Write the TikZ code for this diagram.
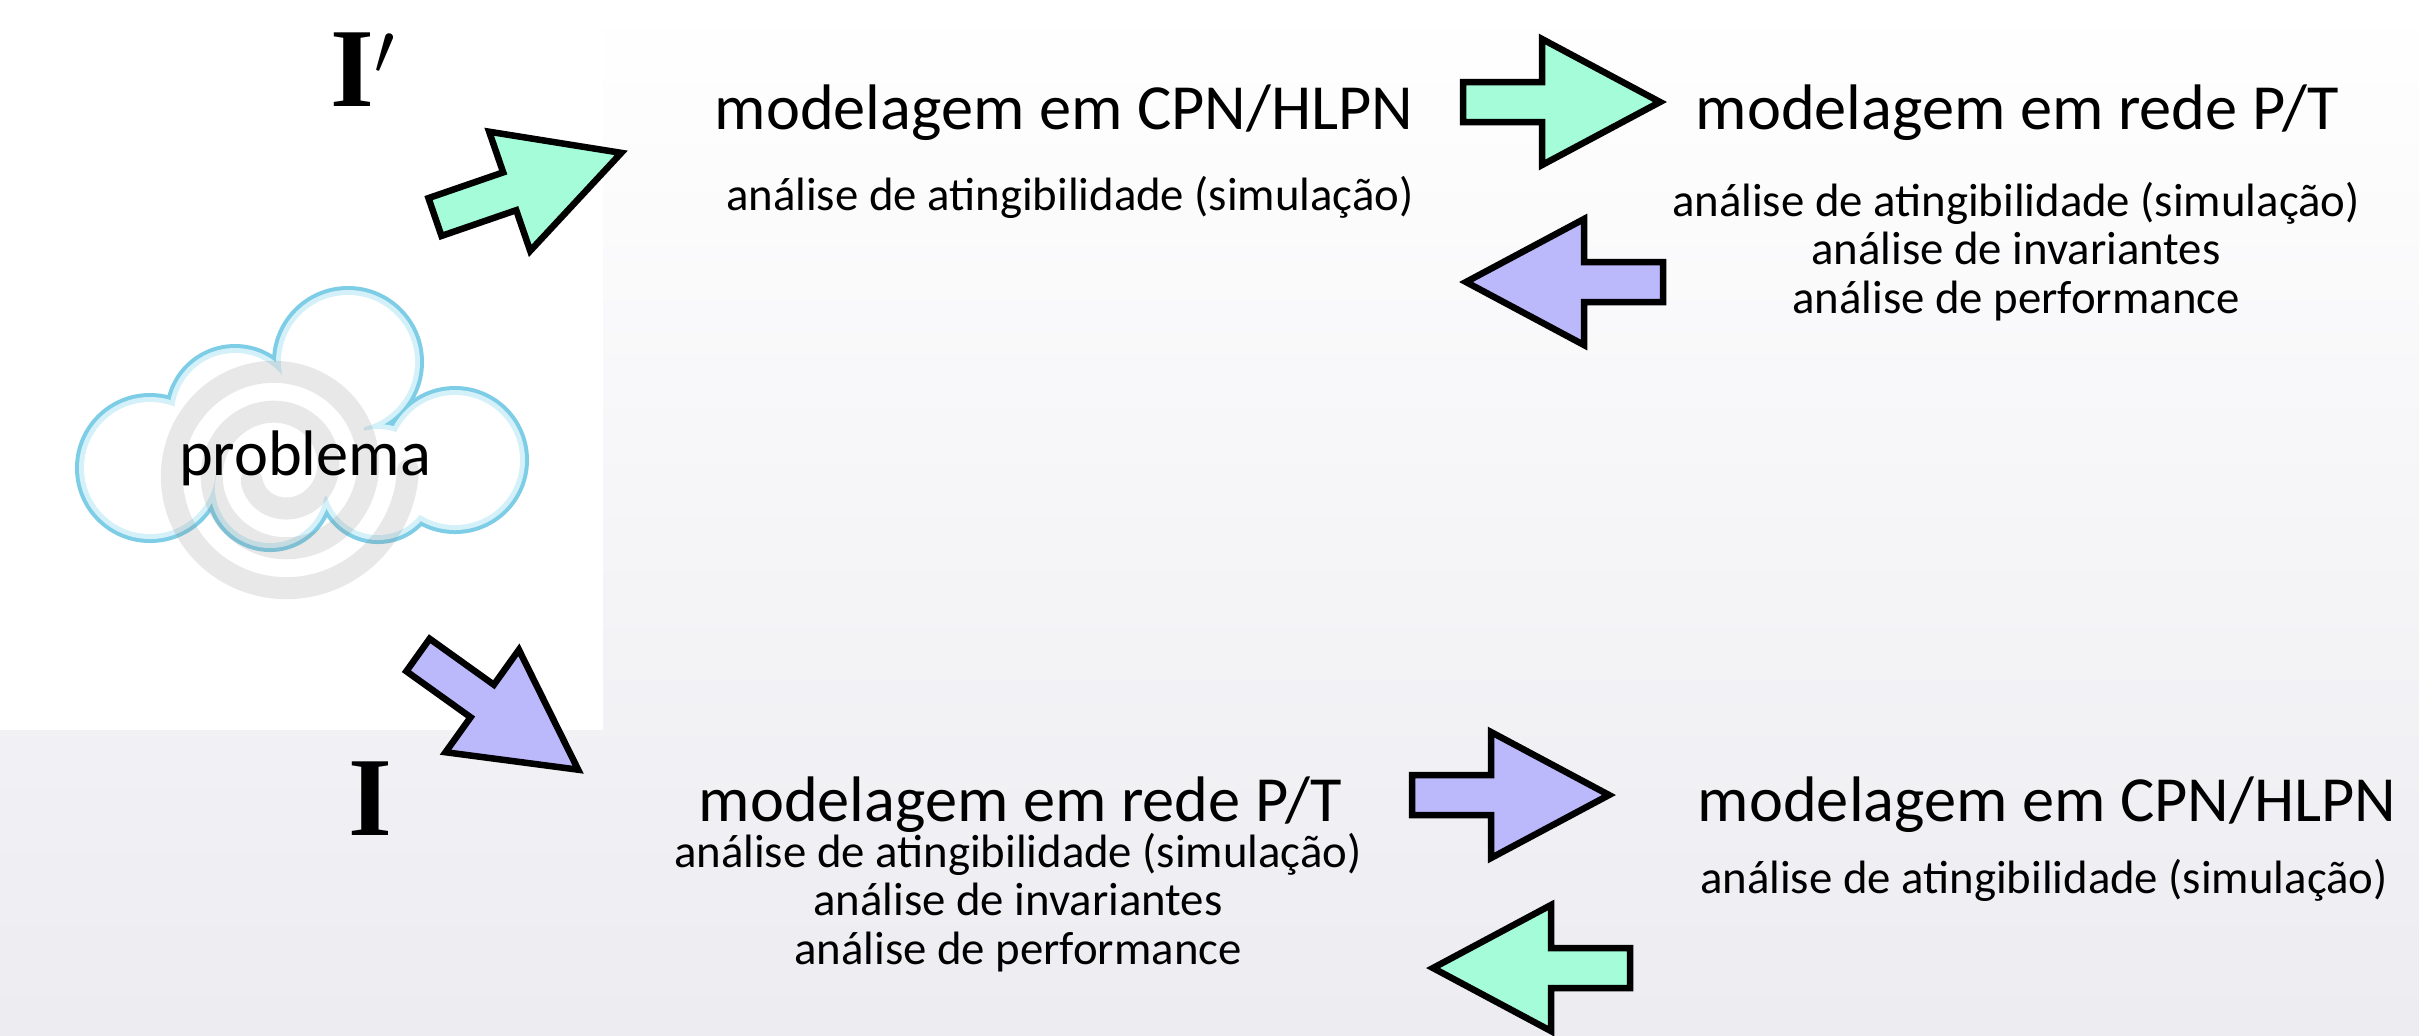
\documentclass[tikz,border=0pt]{standalone}
\usepackage{fontspec}
\setmainfont{Carlito}
\newfontfamily\brushfont{Liberation Serif}

\definecolor{mintfill}{HTML}{A4FCD9}
\definecolor{lilacfill}{HTML}{BBB9FB}
\definecolor{cloudline}{HTML}{7ECDE6}
\definecolor{cloudglow}{HTML}{D4F0F8}
\definecolor{bgbottom}{HTML}{ECECF1}

\tikzset{
  fatarrow/.pic={
    \path[pic actions] (0,-20) -- (79,-20) -- (79,-63) -- (197,0)
      -- (79,63) -- (79,20) -- (0,20) -- cycle;
  },
  blockarrow/.style={draw=black, line width=1.85pt, line join=miter},
  heading/.style={font=\fontsize{18.3}{22}\selectfont, anchor=base, inner sep=0pt},
  notes/.style={font=\fontsize{13.3}{13.7}\selectfont, align=center, anchor=base, inner sep=0pt},
  letter/.style={font=\brushfont\bfseries\fontsize{32}{36}\selectfont, anchor=base west, inner sep=0pt},
}

\begin{document}
\begin{tikzpicture}[x=0.01cm,y=-0.01cm]
  \useasboundingbox (0,0) rectangle (2419,1035);
  \shade[top color=white, middle color=white!60!bgbottom, bottom color=bgbottom]
    (0,0) rectangle (2419,1035);
  \fill[white] (0,0) rectangle (603,730);

  % cloud: lobes drawn in three passes so only the outer rim stays blue
  \def\lobes{150/468/75, 235/414/70, 348/362/76, 455/460/74, 270/488/64, 378/482/62}
  \foreach \cx/\cy/\r in \lobes
    \fill[cloudline] (\cx,\cy) circle [radius=\r];
  \foreach \cx/\cy/\r in \lobes
    \fill[cloudglow] (\cx,\cy) circle [radius=\r-4];
  \foreach \cx/\cy/\r in \lobes
    \fill[white] (\cx,\cy) circle [radius=\r-9];
  \fill[white] (305,440) circle [radius=60];
  \draw[gray, opacity=0.18, line width=0.22cm, line cap=round]
    plot[domain=0:880, samples=160, smooth]
      ({280+(128-\x/9)*cos(\x)}, {470+(128-\x/9)*sin(\x)});
  \node[heading] (problem) at (305,475) {problema};

  \node[letter] (iprime) at (330,106) {I$'$};
  \node[letter] (iplain) at (348,835) {I};

  \pic[blockarrow, fill=mintfill, rotate=19] at (435,217) {fatarrow};
  \pic[blockarrow, fill=lilacfill, rotate=-35.6] at (418,655) {fatarrow};

  \node[heading] (cpnTop) at (1064,129) {modelagem em CPN/HLPN};
  \node[notes] (cpnTopNotes) at (1070,210) {análise de atingibilidade (simulação)};
  \node[heading] (ptTop) at (2017,129) {modelagem em rede P/T};
  % multi-line notes sit on the baseline of their last line
  \node[notes] (ptTopNotes) at (2016,313)
    {análise de atingibilidade (simulação)\\análise de invariantes\\análise de performance};
  \pic[blockarrow, fill=mintfill] at (1463,102) {fatarrow};
  \pic[blockarrow, fill=lilacfill, rotate=180] at (1663,282) {fatarrow};

  \node[heading] (ptBot) at (1020,821) {modelagem em rede P/T};
  \node[notes] (ptBotNotes) at (1018,964)
    {análise de atingibilidade (simulação)\\análise de invariantes\\análise de performance};
  \node[heading] (cpnBot) at (2047,821) {modelagem em CPN/HLPN};
  \node[notes] (cpnBotNotes) at (2044,893) {análise de atingibilidade (simulação)};
  \pic[blockarrow, fill=lilacfill] at (1412,795) {fatarrow};
  \pic[blockarrow, fill=mintfill, rotate=180] at (1630,968) {fatarrow};
\end{tikzpicture}
\end{document}
